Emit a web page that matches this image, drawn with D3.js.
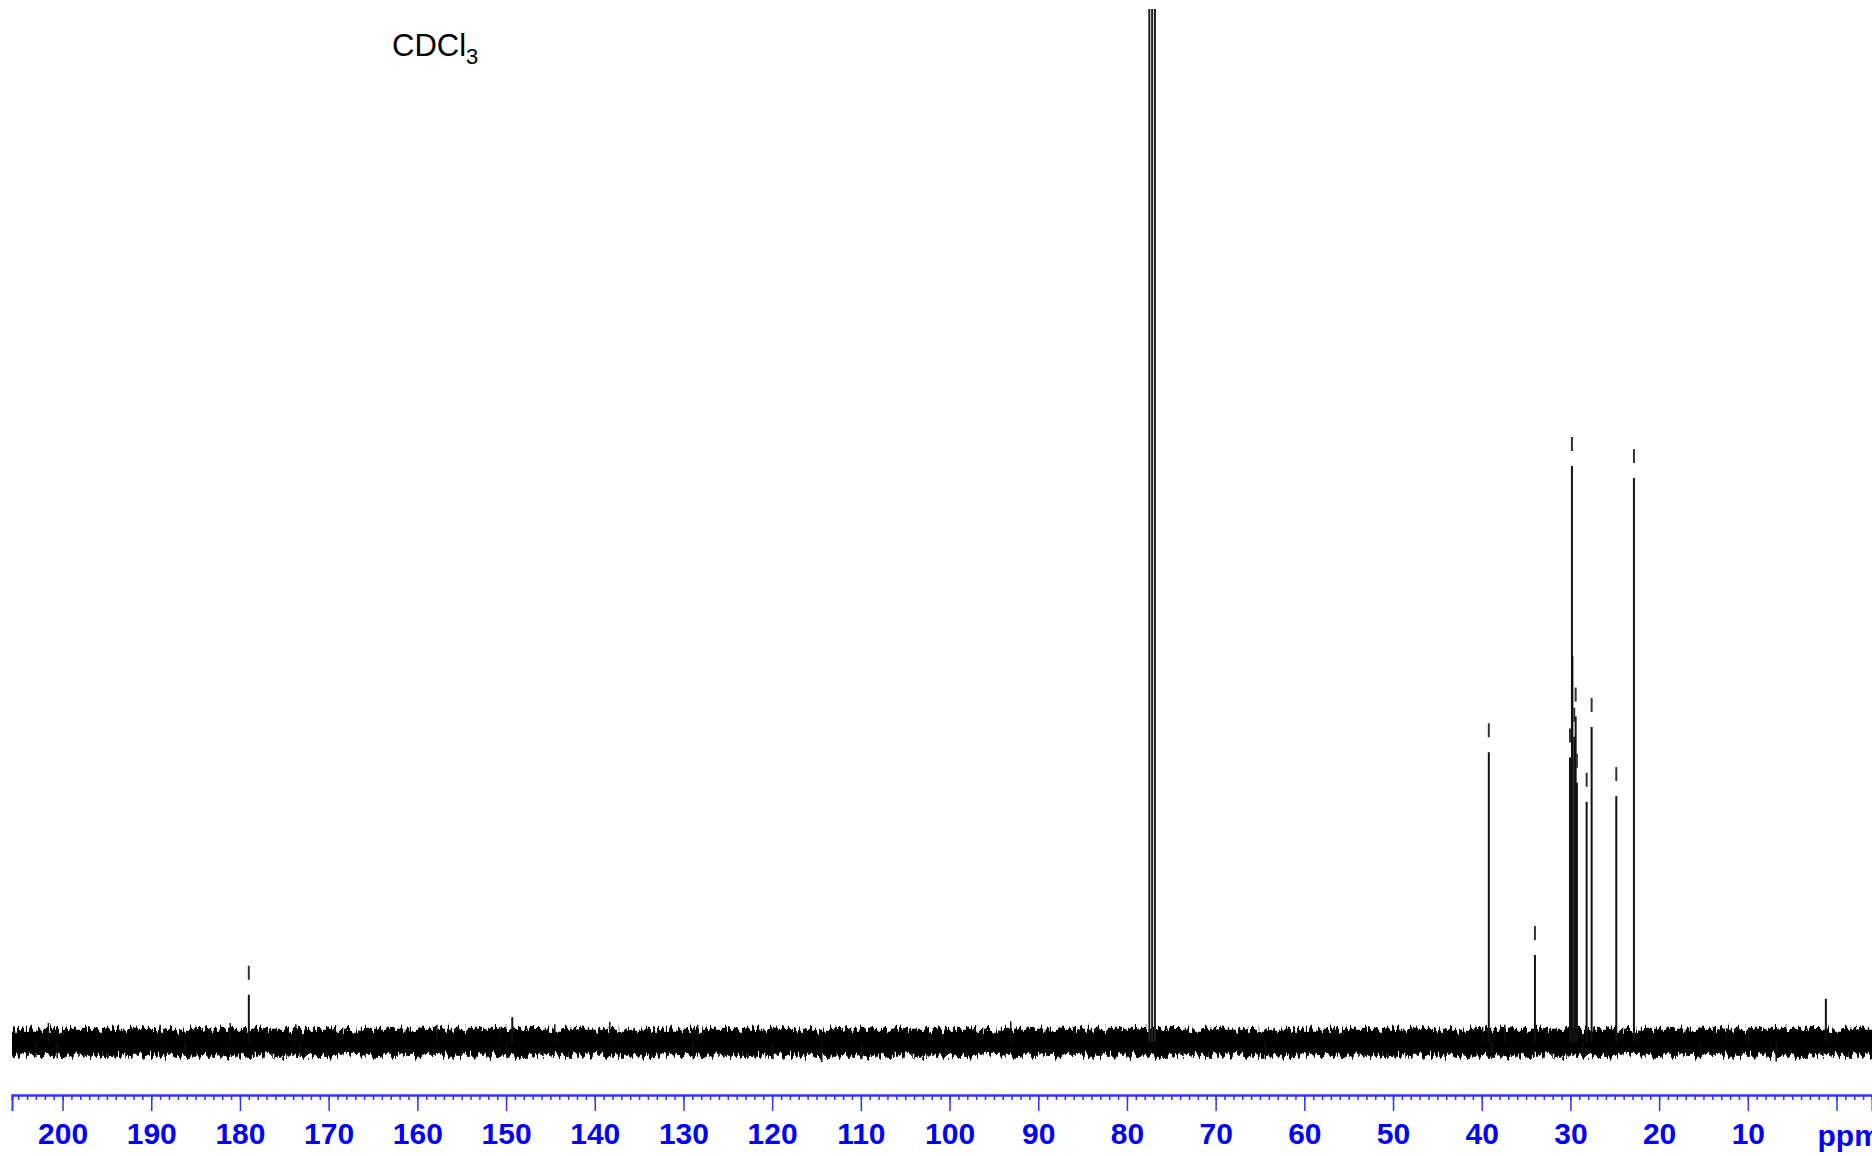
<!DOCTYPE html>
<html>
<head>
<meta charset="utf-8">
<script src="https://cdn.jsdelivr.net/npm/d3@7"></script>
<style>
  body { margin: 0; background: #fff; }
  svg { display: block; font-family: "Liberation Sans", Arial, Helvetica, sans-serif; }
</style>
</head>
<body>
<div id="spectrum"></div>
<script>
// 13C signals: shift (ppm) and height (tallest sample peak = 100)
const peakPpm    = [179.0, 149.3, 77.48, 77.16, 76.84, 39.2, 34.0, 30.05, 29.83, 29.78, 29.57, 29.41, 29.27, 28.17, 27.61, 24.83, 22.84, 1.2];
const peakHeight = [8.2,   4.3,   230,   230,   230,   50.3, 15.1, 49.4,  100,   67,    53,    56.5,  45,    41.7,  54.7,  42.7,  97.9,  7.5];

// peaks that carry a pick mark
const pickedPpm = [179.0, 39.2, 34.0, 30.05, 29.83, 29.57, 29.41, 29.27, 28.17, 27.61, 24.83, 22.84];

// baseline noise band (same units as heights)
const bandPpm  = [205.7, -4.0];
const bandHigh = [2.3, 2.3];
const bandLow  = [-2.4, -2.4];

// bigger noise spikes seen off the band
const spikePpm    = [203.0, 201.6, 200.6, 189.0, 186.2, 181.1, 173.7, 173.2, 157.8, 150.7, 149.9, 144.5, 138.3, 128.9, 128.4, 119.9, 114.4, 109.9, 93.1, 64.4, 39.9, 38.9, 37.4, 28.6, 15.3, 12.4, 9.9, 6.8];
const spikeHeight = [-2.6,  3.3,   -2.8,  3.0,   -2.3,  3.3,   3.1,   -2.6,  3.0,   2.6,   -2.8,  3.1,   3.5,   -3.0,  3.0,   -3.0,  -3.5,  -3.0,  3.6,  -3.0, 2.6,  -2.9, 3.0,  -2.8, -2.6, 2.4,  2.5, -3.4];

const majorTicks = d3.range(200, -1, -10);
const minorTicks = d3.range(205, -4, -1);
const tickLabels = majorTicks.map((d) => (d === 0 ? "" : String(d)));

const width = 1872;
const height = 1156;

const x = d3.scaleLinear().domain([205.7, -4.0]).range([12, 1872]);
const y = d3.scaleLinear().domain([0, 100]).range([1042, 466]);

const svg = d3
  .select("#spectrum")
  .append("svg")
  .attr("width", width)
  .attr("height", height);

const defs = svg.append("defs");

defs.append("clipPath")
  .attr("id", "plot-clip")
  .append("rect")
  .attr("x", 12)
  .attr("y", 9)
  .attr("width", width - 12)
  .attr("height", 1080);

// ragged edge for the noise band (vertical shift only)
const jag = defs.append("filter")
  .attr("id", "jag")
  .attr("x", 0).attr("y", -2).attr("width", 1).attr("height", 5)
  .attr("color-interpolation-filters", "sRGB");
jag.append("feTurbulence")
  .attr("type", "fractalNoise")
  .attr("baseFrequency", "0.4 0.08")
  .attr("numOctaves", 2)
  .attr("seed", 7)
  .attr("result", "n");
jag.append("feColorMatrix")
  .attr("in", "n")
  .attr("type", "matrix")
  .attr("values", "0 0 0 0 0.5  0 1 0 0 0  0 0 0 0 0  0 0 0 0 1")
  .attr("result", "m");
jag.append("feDisplacementMap")
  .attr("in", "SourceGraphic")
  .attr("in2", "m")
  .attr("scale", 18)
  .attr("xChannelSelector", "R")
  .attr("yChannelSelector", "G");

const plot = svg.append("g").attr("clip-path", "url(#plot-clip)");

const band = bandPpm.map((p, i) => ({ p, hi: bandHigh[i], lo: bandLow[i] }));

plot.append("g")
  .attr("filter", "url(#jag)")
  .append("path")
  .datum(band)
  .attr("fill", "#000")
  .attr("d", d3.area().x((d) => x(d.p)).y0((d) => y(d.lo)).y1((d) => y(d.hi)));

plot.selectAll("line.spike")
  .data(spikePpm)
  .join("line")
  .attr("class", "spike")
  .attr("x1", (d) => x(d))
  .attr("x2", (d) => x(d))
  .attr("y1", y(0))
  .attr("y2", (d, i) => y(spikeHeight[i]))
  .attr("stroke", "#111")
  .attr("stroke-width", 1.5);

// signals
plot.selectAll("line.peak")
  .data(peakPpm)
  .join("line")
  .attr("class", "peak")
  .attr("x1", (d) => x(d))
  .attr("x2", (d) => x(d))
  .attr("y1", y(0))
  .attr("y2", (d, i) => y(peakHeight[i]))
  .attr("stroke", (d) => (d > 76 && d < 78 ? "#222" : "#111"))
  .attr("stroke-width", 2);

// pick marks above picked peaks
const heightOf = (p) => peakHeight[peakPpm.indexOf(p)];
svg.selectAll("line.pick")
  .data(pickedPpm)
  .join("line")
  .attr("class", "pick")
  .attr("x1", (d) => x(d))
  .attr("x2", (d) => x(d))
  .attr("y1", (d) => y(heightOf(d)) - 29)
  .attr("y2", (d) => y(heightOf(d)) - 15)
  .attr("stroke", "#333")
  .attr("stroke-width", 2);

// solvent label
const solvent = svg.append("text")
  .attr("x", 392)
  .attr("y", 56)
  .attr("font-size", 31)
  .attr("fill", "#000");
solvent.append("tspan").text("CDCl");
solvent.append("tspan").attr("font-size", 22).attr("dy", 8).text("3");

// ppm axis
const axisY = 1095;
const minorAxis = svg.append("g")
  .attr("transform", `translate(0,${axisY})`)
  .call(d3.axisBottom(x).tickValues(minorTicks).tickSize(5).tickFormat(""));
const majorAxis = svg.append("g")
  .attr("transform", `translate(0,${axisY})`)
  .call(
    d3.axisBottom(x)
      .tickValues(majorTicks)
      .tickSize(16)
      .tickPadding(12)
      .tickFormat((d, i) => tickLabels[i])
  );

[minorAxis, majorAxis].forEach((g) => {
  g.select(".domain").attr("stroke", "#3333ff").attr("stroke-width", 2);
  g.selectAll(".tick line").attr("stroke", "#3333ff").attr("stroke-width", 1.5);
});
majorAxis.selectAll(".tick text")
  .attr("fill", "#0000ff")
  .attr("font-size", 30)
  .attr("font-weight", "bold")
  .attr("font-family", "'Liberation Sans', Arial, sans-serif");

svg.append("text")
  .attr("x", x(0) - 19)
  .attr("y", axisY + 51)
  .attr("fill", "#0000ff")
  .attr("font-size", 30)
  .attr("font-weight", "bold")
  .text("ppm");
</script>
</body>
</html>
